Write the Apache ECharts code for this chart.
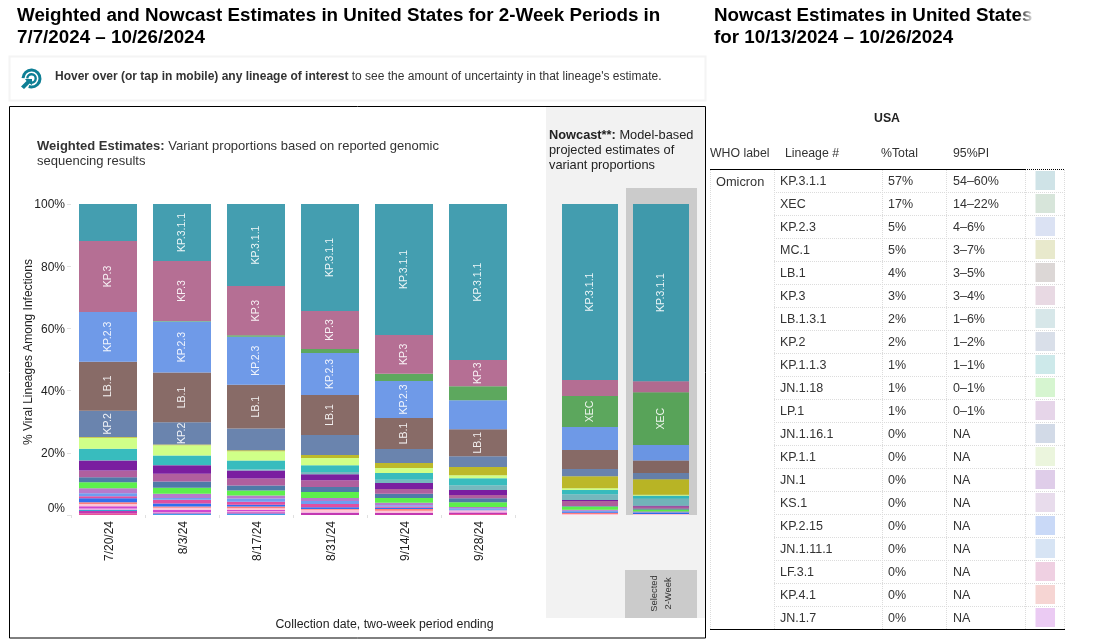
<!DOCTYPE html>
<html><head><meta charset="utf-8">
<style>html,body{margin:0;padding:0;background:#fff}#c{width:1117px;height:643px}</style>
<script src="https://cdn.jsdelivr.net/npm/echarts@6/dist/echarts.min.js"></script>
</head><body><div id="c"></div>
<script>
const weightedDates = ['7/20/24','8/3/24','8/17/24','8/31/24','9/14/24','9/28/24'];
const nowcastDates = ['10/12/24','10/26/24'];
const yTicks = [0,20,40,60,80,100];
// values: six weighted periods, then two nowcast periods; listed top of bar to bottom
const KP311 = [11.9,18.3,26.4,34.4,42.1,50.2,56.6,57];
const KP3   = [22.8,19.3,15.8,12.2,12.5,8.4,5.1,3.5];
const XEC   = [0,0.2,0.5,1.3,2.3,4.5,10,17];
const KP23  = [16,16.4,15.4,13.5,11.9,9.3,7.4,5];
const LB1   = [15.8,16,14.1,12.9,10,8.7,6.1,4];
const KP2   = [8.4,7.1,7,6.4,4.5,3.5,2.3,2];
const MC1   = [0.3,0.3,0.3,1,1.6,2.6,3.9,5];
const lime  = [3.5,3.3,3,2.3,1.6,1,0.6,0.3];
const teal  = [3.7,3,2.9,2.2,2.2,2.2,1.3,1];
const ltTeal= [0.1,0.1,0.3,0.7,1,1.6,1.9,2.2];
const purple= [3.2,2.7,2.6,1.9,1.9,1.6,0.3,0.3];
const mauve = [2.2,2.5,2.2,2.2,1.6,1,1.6,0.6];
const steel = [1.6,2,1.6,1.6,1.3,1.3,0.2,0.3];
const green = [1.9,2,1.6,1.9,1.6,1.5,1,0.7];
const orchid= [1.6,1.3,1,1,0.8,0.4,0.3,0.2];
const ltBlue= [1,0.6,1,1,0.4,0.4,0.3,0.2];
const pink  = [0.6,1.2,1,1,0.4,0,0,0];
const blue  = [1.3,1,0.6,0.6,0.4,0.3,0.4,0.4];
const s1    = [0.6,0.4,0.5,0.2,0.5,0,0.4,0];
const s2    = [0.7,0.6,0.6,0.8,0.7,0.3,0.3,0.3];
const s3    = [0.7,0.7,0.3,0,0,0,0,0];
const s4    = [0.4,0.2,0.4,0.2,0,0.4,0,0];
const s5    = [0.4,0,0,0,0,0,0,0];
const s6    = [0.7,0.3,0.4,0.7,0.7,0.5,0,0];
const s7    = [0.6,0,0,0,0,0.3,0,0];
const s8    = [0,0.5,0.5,0,0,0,0,0];
// which bars (by index) carry a printed lineage name
const labelKP311 = [1,2,3,4,5,6,7];
const labelKP3   = [0,1,2,3,4,5];
const labelXEC   = [6,7];
const labelKP23  = [0,1,2,3,4];
const labelLB1   = [0,1,2,3,4,5];
const labelKP2   = [0,1];
// table
const rowLineage = ['KP.3.1.1','XEC','KP.2.3','MC.1','LB.1','KP.3','LB.1.3.1','KP.2','KP.1.1.3','JN.1.18','LP.1','JN.1.16.1','KP.1.1','JN.1','KS.1','KP.2.15','JN.1.11.1','LF.3.1','KP.4.1','JN.1.7'];
const rowTotal = ['57%','17%','5%','5%','4%','3%','2%','2%','1%','1%','1%','0%','0%','0%','0%','0%','0%','0%','0%','0%'];
const rowPI = ['54–60%','14–22%','4–6%','3–7%','3–5%','3–4%','1–6%','1–2%','1–1%','0–1%','0–1%','NA','NA','NA','NA','NA','NA','NA','NA','NA'];
const rowSwatch = ['#CFE3E7','#D7E5DA','#DBE2F3','#E8E9CC','#DCD7D6','#E8D9E3','#D7E7E9','#D9DFE9','#CDE9EA','#D6F5D0','#E6D5E9','#D2DAE7','#EBF5DD','#DFCDE9','#E8DCEC','#C9D9F7','#D7E4F4','#EFD0E2','#F6D5D3','#EBCBF3'];

const F = '"Liberation Sans",Arial,sans-serif';
const stackDefs = [
 ['KP.3.1.1',KP311,'#3094A7',labelKP311],['KP.3',KP3,'#AD5F88',labelKP3],['XEC',XEC,'#4B9E4D',labelXEC],
 ['KP.2.3',KP23,'#5F8FE5',labelKP23],['LB.1',LB1,'#7B5B57',labelLB1],['KP.2',KP2,'#5A77A5',labelKP2],
 ['MC.1',MC1,'#B6B113',[]],['JN.1.18',lime,'#CBFF7B',[]],['KP.2.15',teal,'#22B5B7',[]],['KP.1.1.3',ltTeal,'#67B0B7',[]],
 ['LP.1',purple,'#6B0696',[]],['JN.1',mauve,'#A74E94',[]],['JN.1.16.1',steel,'#3C6C9E',[]],['KP.1.1',green,'#4BEE39',[]],
 ['KS.1',orchid,'#B06CC5',[]],['JN.1.11.1',ltBlue,'#5E93EE',[]],['LF.3.1',pink,'#DD3C96',[]],['KP.4',blue,'#1960EE',[]],
 ['KP.4.1',s1,'#FF6F6F',[]],['s2',s2,'#FFBFD3',[]],['JN.1.7',s3,'#CB33CB',[]],['s4',s4,'#EE99DD',[]],['s5',s5,'#1F98CC',[]],
 ['s6',s6,'#BB22AA',[]],['s7',s7,'#E5408F',[]],['s8',s8,'#2E96E6',[]]
];
const series = [];
stackDefs.slice().reverse().forEach(([name,vals,color,lab])=>{
  [0,1].forEach(g=>{
    const off = g===0?0:6;
    const data = vals.slice(off, g===0?6:8).map((v,i)=>({value:v,
      label:{show:lab.includes(i+off)}}));
    series.push({name,type:'bar',stack:'g'+g,xAxisIndex:g,yAxisIndex:g,barWidth:g===0?58:56,
      itemStyle:{color,opacity:0.9},data,animation:false,silent:true,
      label:{show:false,position:'inside',rotate:90,color:'#fff',fontFamily:F,fontSize:10.5,formatter:name}});
  });
});
const G=[];
const T=(text,x,y,size,o={})=>G.push({type:'text',z:o.z||20,style:Object.assign({text,x,y,fontSize:size,fontFamily:F,fontWeight:o.w||'normal',fill:o.c||'#333',
  align:o.a||'left',textAlign:o.a||'left',verticalAlign:'middle',textVerticalAlign:'middle',lineHeight:o.lh,rich:o.rich},{}),rotation:o.r||0});
const R=(x,y,w,h,fill,o={})=>G.push({type:'rect',z:o.z==null?0:o.z,shape:{x,y,width:w,height:h},style:{fill,stroke:o.s||null,lineWidth:o.lw||0,opacity:o.op==null?1:o.op}});
const L=(x1,y1,x2,y2,c,w,dash)=>G.push({type:'line',z:5,shape:{x1,y1,x2,y2},style:{stroke:c,lineWidth:w,lineDash:dash||null}});

// titles
T('Weighted and Nowcast Estimates in United States for 2-Week Periods in',17,16,18.8,{w:'bold',c:'#000'});
T('7/7/2024 – 10/26/2024',17,38,18.8,{w:'bold',c:'#000'});
T('Nowcast Estimates in United States',714,16,18.8,{w:'bold',c:'#000'});
T('for 10/13/2024 – 10/26/2024',714,38,18.8,{w:'bold',c:'#000'});
G.push({type:'rect',z:30,shape:{x:1018,y:4,width:16,height:22},style:{fill:{type:'linear',x:0,y:0,x2:1,y2:0,colorStops:[{offset:0,color:'rgba(255,255,255,0)'},{offset:1,color:'rgba(255,255,255,1)'}]}}});
// hint box
R(9.5,56.5,696,44,'#fff',{s:'#f4f4f4',lw:2});
G.push({type:'arc',z:6,shape:{cx:31.5,cy:78.5,r:8.5,startAngle:-3.1,endAngle:1.9,clockwise:true},style:{stroke:'#0E7F95',lineWidth:3,fill:null}});
G.push({type:'arc',z:6,shape:{cx:31.5,cy:78.5,r:4.2,startAngle:-3.1,endAngle:1.7,clockwise:true},style:{stroke:'#0E7F95',lineWidth:2.4,fill:null}});
G.push({type:'polygon',z:7,shape:{points:[[32,79],[32,85],[29.5,83.5],[24,89],[21,86.5],[26.5,81],[25,79]]},style:{fill:'#0E7F95'}});
T('{b|Hover over (or tap in mobile) any lineage of interest} to see the amount of uncertainty in that lineage\'s estimate.',55,77,12,
  {c:'#333',rich:{b:{fontWeight:'bold',fontSize:12,fontFamily:F,fill:'#333',color:'#333'}}});
// frame
R(9.5,106.5,696,531.5,'#fff',{s:'#000',lw:1});
R(546,107,159,511,'#F2F2F2',{z:1});
R(626,188,71,327,'#CBCBCB',{z:1});
R(625,570,72,48,'#CBCBCB',{z:1});
T('{b|Weighted Estimates:} Variant proportions based on reported genomic\nsequencing results',37,154,13,
  {c:'#333',lh:15.5,rich:{b:{fontWeight:'bold',fontSize:13,fontFamily:F,color:'#333',lineHeight:15.5}}});
T('{b|Nowcast**:} Model-based\nprojected estimates of\nvariant proportions',549,150,12.8,
  {c:'#222',lh:15,rich:{b:{fontWeight:'bold',fontSize:12.8,fontFamily:F,color:'#000',lineHeight:15}}});
T('Collection date, two-week period ending',384.5,624.5,12.3,{a:'center',c:'#222'});
T('% Viral Lineages Among Infections',0,0,12,{a:'center',c:'#222'});
G[G.length-1].x=29; G[G.length-1].y=352; G[G.length-1].rotation=Math.PI/2;
T('Selected\n2-Week',0,0,9.4,{a:'center',c:'#333',lh:14});
G[G.length-1].x=661.5; G[G.length-1].y=593.5; G[G.length-1].rotation=Math.PI/2;
// table
T('USA',887,119,12.3,{a:'center',w:'bold',c:'#222'});
[['WHO label',710],['Lineage #',785],['%Total',881],['95%PI',953]].forEach(([t,x])=>T(t,x,154,12.3,{c:'#333'}));
T('Omicron',716,182.5,12.8,{c:'#333'});
const dot=[1,1];
[710.5,774.5,882.5,946.5,1025.5,1064.5].forEach(x=>L(x,170,x,629,'#dcdcdc',1,dot));
rowLineage.forEach((name,i)=>{
  const yc=181+23*i;
  if(i<rowLineage.length-1) L(774,yc+11.5,1065,yc+11.5,'#dcdcdc',1,dot);
  T(name,780,yc+0.5,12.5,{c:'#333'});
  T(rowTotal[i],888,yc+0.5,12.5,{c:'#333'});
  T(rowPI[i],953,yc+0.5,12.5,{c:'#333'});
  R(1035.5,yc-10,19.5,19,rowSwatch[i],{z:4});
});
L(710,169.5,1025,169.5,'#000',1);
L(1025,169.5,1065,169.5,'#000',1,dot);
L(710,629.5,1065,629.5,'#000',1);

const yBase={type:'value',min:0,max:100,interval:20,splitLine:{show:false},axisLine:{show:false}};
const xBase={type:'category',offset:2,axisLine:{show:false},
  axisTick:{show:true,length:3,lineStyle:{color:'#e0e0e0'}},
  axisLabel:{rotate:90,fontFamily:F,fontSize:12,color:'#222',margin:4,interval:0,
    formatter:'{a|{value}}',rich:{a:{fontFamily:F,fontSize:12,color:'#222',padding:[4,0,0,0]}}}};
const option={
  animation:false,backgroundColor:'#fff',textStyle:{fontFamily:F},
  grid:[{left:71,top:204,width:444,height:311},{left:554.5,top:204,width:142,height:311}],
  xAxis:[Object.assign({},xBase,{gridIndex:0,data:weightedDates}),Object.assign({},xBase,{gridIndex:1,data:nowcastDates})],
  yAxis:[Object.assign({},yBase,{gridIndex:0,axisTick:{show:true,length:4,lineStyle:{color:'#e0e0e0'}},
      axisLabel:{fontFamily:F,fontSize:12,color:'#222',margin:6,formatter:'{a|{value}%}',
        rich:{a:{fontFamily:F,fontSize:12,color:'#222',padding:[2,0,0,0]}},customValues:yTicks,verticalAlignMinLabel:'bottom'}}),
    Object.assign({},yBase,{gridIndex:1,axisTick:{show:false},axisLabel:{show:false}})],
  series,graphic:{elements:G}
};
echarts.init(document.getElementById('c')).setOption(option);
</script></body></html>
